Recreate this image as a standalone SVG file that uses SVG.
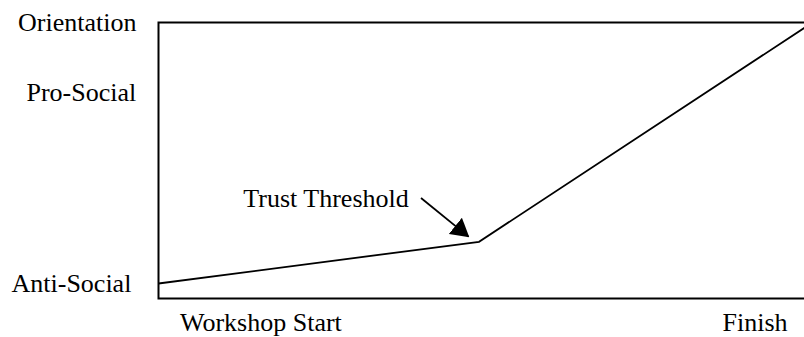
<svg xmlns="http://www.w3.org/2000/svg" width="804" height="337" viewBox="0 0 804 337">
<style>
text{font-family:"Liberation Serif","Times New Roman",serif;font-size:26px;fill:#000}
.frame{fill:none;stroke:#000;stroke-width:2}
.curve{fill:none;stroke:#000;stroke-width:1.8;stroke-linejoin:miter}
.arrow{fill:none;stroke:#000;stroke-width:1.8}
</style>
<defs>
<marker id="head" viewBox="0 0 18 21" refX="17" refY="10.5" markerWidth="18" markerHeight="21" markerUnits="userSpaceOnUse" orient="auto">
<path d="M0,0 L18,10.5 L0,21 z" fill="#000"/>
</marker>
</defs>
<rect width="804" height="337" fill="#fff"/>
<g id="axes">
<path class="frame" d="M810,22.5 H158.5 V298.5 H810"/>
</g>
<g id="labels">
<text x="18" y="31">Orientation</text>
<text x="26.5" y="101">Pro-Social</text>
<text x="11.5" y="291.5">Anti-Social</text>
<text x="180" y="331">Workshop Start</text>
<text x="722.5" y="331">Finish</text>
</g>
<g id="trend">
<polyline class="curve" points="158.5,283.5 479,241.8 805,27.5"/>
</g>
<g id="threshold">
<text x="243.3" y="206.7">Trust Threshold</text>
</g>
<g id="connectors">
<line class="arrow" x1="421" y1="198" x2="468.5" y2="236.6" marker-end="url(#head)"/>
</g>
</svg>
